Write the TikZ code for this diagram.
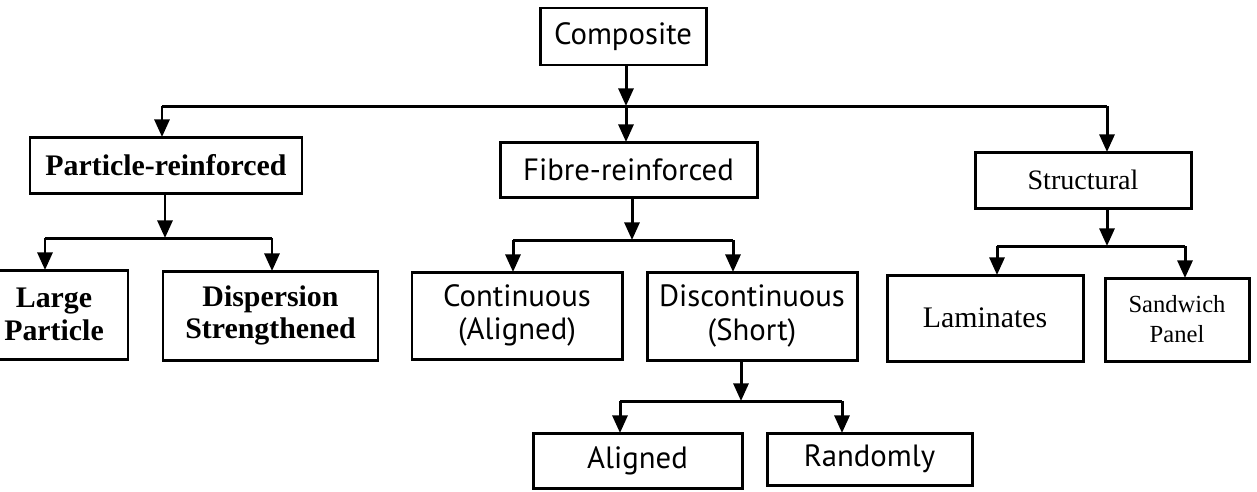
\documentclass[tikz,border=0pt]{standalone}
\usepackage{fontspec}
\setmainfont{Liberation Serif}
\newfontfamily\optfont{PT Sans}
\usetikzlibrary{arrows.meta}
\begin{document}
\begin{tikzpicture}[x=0.02cm,y=-0.02cm,
  bx/.style 2 args={draw, line width=1.7pt, minimum width=#1*0.02cm, minimum height=#2*0.02cm, inner sep=0pt, outer sep=0pt, align=center},
  arr/.style={line width=1.7pt, -{Triangle[width=8.5pt,length=10pt]}},
  ln/.style={line width=1.7pt},
  sf/.style={font=\optfont\fontsize{17.5}{19}\selectfont},
  bf/.style={font=\bfseries\fontsize{17}{18.5}\selectfont},
  rm/.style={font=\fontsize{17}{18.5}\selectfont},
  st/.style={font=\fontsize{16}{18.5}\selectfont},
  sm/.style={font=\fontsize{14}{17}\selectfont}]
\useasboundingbox (0,0) rectangle (1257,491);
\clip (0,0) rectangle (1257,491);
\fill[white] (0,0) rectangle (1257,491);

% boxes
\node[bx={166}{57}, sf] (comp) at (623,36.5) {Composite};
\node[bx={272}{56}, bf] (part) at (166,165) {Particle-reinforced};
\node[bx={257}{55}, sf] (fibre) at (628.5,169.5) {Fibre-reinforced};
\node[bx={216}{56}, st] (struc) at (1083,180) {Structural};
\node[bx={148}{89}, bf] (large) at (54,314.5) {Large\\Particle};
\node[bx={215}{89}, bf] (disp) at (270.5,315.5) {Dispersion\\Strengthened};
\node[bx={210}{87}, sf] (cont) at (517,315.5) {Continuous\\(Aligned)};
\node[bx={210}{88}, sf] (disc) at (752,316) {Discontinuous\\(Short)};
\node[bx={209}{55}, sf] (align) at (637.5,460.5) {Aligned};
\node[bx={205}{52}, sf] (rand) at (869.5,459) {Randomly};
\node[bx={196}{86}, rm] (lam) at (985,318) {Laminates};
\node[bx={144}{83}, sm] (sand) at (1177,319.5) {Sandwich\\Panel};

% level 1
\coordinate (b0) at (626,106);
\coordinate (b1) at (162,106);
\coordinate (b2) at (1107,106);
\draw[arr] (b0 |- comp.south) -- (b0);
\draw[ln] (b1) -- (b2);
\draw[arr] (b1) -- (b1 |- part.north);
\draw[arr] (b0) -- (b0 |- fibre.north);
\draw[arr] (b2) -- (b2 |- struc.north);

% particle-reinforced
\coordinate (p0) at (165,238);
\coordinate (p1) at (45,238);
\coordinate (p2) at (272,238);
\draw[arr] (p0 |- part.south) -- (p0);
\draw[ln] (p1) -- (p2);
\draw[arr] (p1) -- (p1 |- large.north);
\draw[arr] (p2) -- (p2 |- disp.north);

% fibre-reinforced
\coordinate (f0) at (632,240);
\coordinate (f1) at (513,240);
\coordinate (f2) at (733,240);
\draw[arr] (f0 |- fibre.south) -- (f0);
\draw[ln] (f1) -- (f2);
\draw[arr] (f1) -- (f1 |- cont.north);
\draw[arr] (f2) -- (f2 |- disc.north);

% discontinuous
\coordinate (d0) at (741,401);
\coordinate (d1) at (620,401);
\coordinate (d2) at (842,401);
\draw[arr] (d0 |- disc.south) -- (d0);
\draw[ln] (d1) -- (d2);
\draw[arr] (d1) -- (d1 |- align.north);
\draw[arr] (d2) -- (d2 |- rand.north);

% structural
\coordinate (t0) at (1107,246);
\coordinate (t1) at (997,246);
\coordinate (t2) at (1185,246);
\draw[arr] (t0 |- struc.south) -- (t0);
\draw[ln] (t1) -- (t2);
\draw[arr] (t1) -- (t1 |- lam.north);
\draw[arr] (t2) -- (t2 |- sand.north);
\end{tikzpicture}
\end{document}
